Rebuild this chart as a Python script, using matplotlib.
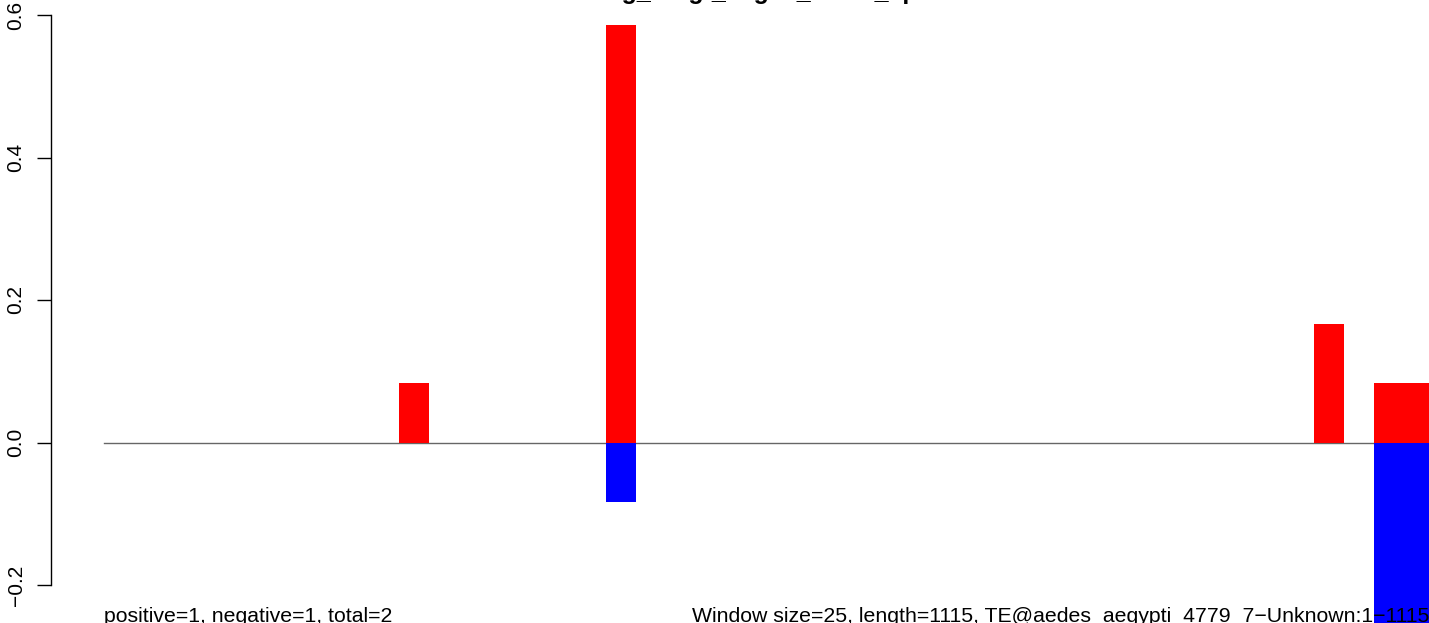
import matplotlib
matplotlib.use("Agg")
import matplotlib.pyplot as plt

plt.rcParams["font.family"] = ["Liberation Sans", "DejaVu Sans"]

# window start (bp), window width (bp), positive / negative signal
win_start = [246, 418, 1008, 1058]
win_width = [25, 25, 25, 57]
pos_vals = [0.083, 0.586, 0.167, 0.083]
neg_vals = [0.0, -0.083, 0.0, -0.333]

seq_length = 1115
yticks = [-0.2, 0.0, 0.2, 0.4, 0.6]

title = "Testing_reagt_eages_know_aptest"
left_note = "positive=1, negative=1, total=2"
right_note = "Window size=25, length=1115, TE@aedes_aegypti_4779_7\u2212Unknown:1\u22121115"

W, H = 1429, 623
fig = plt.figure(figsize=(W / 100, H / 100), dpi=100)
ax = fig.add_axes([51 / W, 0, 1 - 51 / W, 1])

# baseline
ax.plot([0, seq_length], [0, 0], color="#666666", lw=1.0, zorder=1)

ax.bar(win_start, pos_vals, win_width, align="edge", color="red", zorder=2)
ax.bar(win_start, neg_vals, win_width, align="edge", color="blue", zorder=2)

ax.set_xlim((51 - 104) / 1.2, (W - 104) / 1.2)
ax.set_ylim(-0.2 - 38 / 712.5, 0.6 + 15 / 712.5)

for s in ["top", "right", "bottom"]:
    ax.spines[s].set_visible(False)
ax.spines["left"].set_bounds(-0.2, 0.6)
ax.spines["left"].set_linewidth(1.0)
ax.set_xticks([])
ax.set_yticks(yticks)
ax.set_yticklabels(["\u22120.2", "0.0", "0.2", "0.4", "0.6"])
ax.tick_params(axis="y", length=10, width=1.0, pad=8.3, labelsize=15,
               labelrotation=90)
for lab in ax.get_yticklabels():
    lab.set_va("center")
    lab.set_ha("right")

# title sits mostly above the visible area
fig.text(551 / W, 1 + 1.5 / H, title, fontsize=18, fontweight="bold",
         ha="left", va="baseline")

fig.text(104 / W, 1 / H, left_note, fontsize=15.35, ha="left", va="baseline")
fig.text(1.0, 1 / H, right_note, fontsize=15.35, ha="right", va="baseline")

fig.savefig("out.png", dpi=100)
